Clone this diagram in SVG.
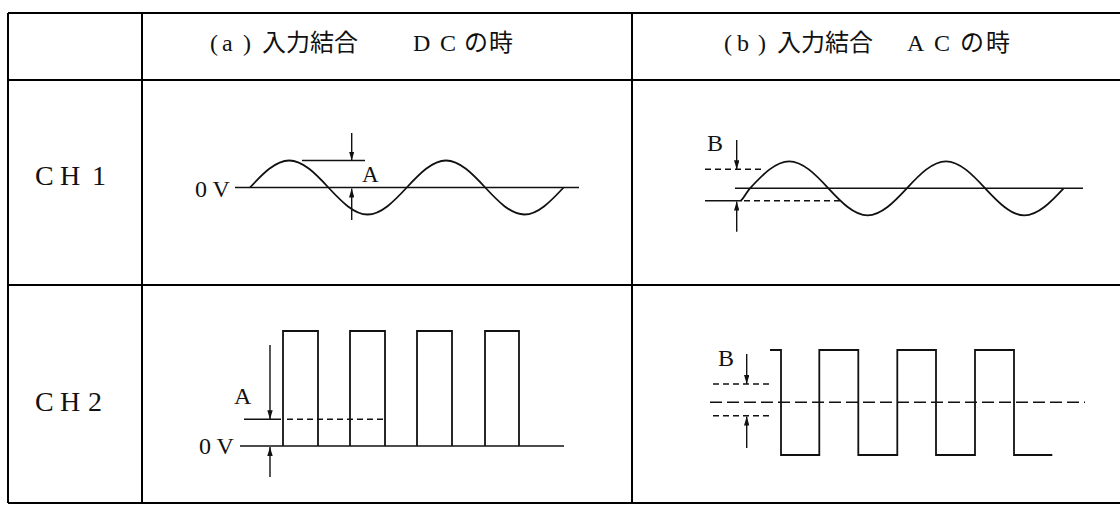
<svg xmlns="http://www.w3.org/2000/svg" width="1120" height="507" viewBox="0 0 1120 507">
<style>
.grid{stroke:#000;stroke-width:2;fill:none}
.wave{stroke:#111;stroke-width:1.8;fill:none}
.thin{stroke:#111;stroke-width:1.4;fill:none}
.dash{stroke:#111;stroke-width:1.4;fill:none;stroke-dasharray:6 4}
.dash2{stroke:#111;stroke-width:1.4;fill:none;stroke-dasharray:12 5}
.arr{stroke:#111;stroke-width:1.4;fill:none;marker-end:url(#ah)}
.t{font-family:"Liberation Serif","Noto Sans CJK JP",serif;fill:#111}
.h{font-size:24px}
.ch{font-size:28px}
.lb{font-size:24px}
</style>
<defs>
<marker id="ah" viewBox="0 0 10 6" refX="10" refY="3" markerWidth="9" markerHeight="5.4" markerUnits="userSpaceOnUse" orient="auto">
<path d="M0,0 L10,3 L0,6 z" fill="#111"/>
</marker>
</defs>
<rect width="1120" height="507" fill="#fff"/>
<g id="table">
<line class="grid" x1="8" y1="13" x2="1120" y2="13"/>
<line class="grid" x1="8" y1="80" x2="1120" y2="80"/>
<line class="grid" x1="8" y1="285" x2="1120" y2="285"/>
<line class="grid" x1="8" y1="503" x2="1120" y2="503"/>
<line class="grid" x1="8" y1="13" x2="8" y2="503"/>
<line class="grid" x1="142" y1="13" x2="142" y2="503"/>
<line class="grid" x1="632" y1="13" x2="632" y2="503"/>
</g>
<g id="header-a">
<text class="t h" x="210 222 243 262 286 310 334 390 413 440 464 489" y="51">(a)入力結合 DCの時</text>
</g>
<g id="header-b">
<text class="t h" x="724 737 758 777 801 825 849 885 907 934 960 986" y="51">(b)入力結合 ACの時</text>
</g>
<g id="label-ch1">
<text class="t ch" x="35 60 92" y="185">CH1</text>
</g>
<g id="label-ch2">
<text class="t ch" x="35 60 88" y="411">CH2</text>
</g>
<g id="ch1-dc">
<line class="thin" x1="235" y1="187.5" x2="579" y2="187.5"/>
<path class="wave" d="M250,187.5 c12.8,-13.8 25.6,-27 39.2,-27 c13.6,0 26.4,13.2 39.2,27 c12.8,13.8 25.6,27 39.2,27 c13.6,0 26.4,-13.2 39.2,-27 c12.8,-13.8 25.6,-27 39.2,-27 c13.6,0 26.4,13.2 39.2,27 c12.8,13.8 25.6,27 39.2,27 c13.6,0 26.4,-13.2 39.2,-27"/>
<line class="thin" x1="302" y1="160.5" x2="365" y2="160.5"/>
<text class="t lb" x="195" y="197">0 V</text>
<text class="t" font-size="23" x="362" y="182">A</text>
</g>
<g id="ch1-ac">
<line class="thin" x1="735" y1="188.3" x2="1083" y2="188.3"/>
<path class="wave" d="M741,200.5 C744,198 746.5,192 750,188.3 c12.8,-13.8 25.6,-27 39.2,-27 c13.6,0 26.4,13.2 39.2,27 c12.8,13.8 25.6,27 39.2,27 c13.6,0 26.4,-13.2 39.2,-27 c12.8,-13.8 25.6,-27 39.2,-27 c13.6,0 26.4,13.2 39.2,27 c12.8,13.8 25.6,27 39.2,27 c13.6,0 26.4,-13.2 39.2,-27"/>
<line class="dash" x1="705" y1="169.3" x2="763" y2="169.3"/>
<line class="thin" x1="705" y1="200.7" x2="742" y2="200.7"/>
<line class="dash" x1="744" y1="200.7" x2="843" y2="200.7"/>
<text class="t lb" x="707" y="151">B</text>
</g>
<g id="ch2-dc">
<line class="thin" x1="240" y1="446" x2="564" y2="446"/>
<path class="wave" d="M283,446 V331 H318 V446 M350,446 V331 H385 V446 M417,446 V331 H452 V446 M485,446 V331 H519 V446"/>
<line class="thin" x1="244" y1="419.3" x2="281" y2="419.3"/>
<line class="dash" x1="287" y1="419.3" x2="385" y2="419.3"/>
<text class="t lb" x="234" y="404">A</text>
<text class="t lb" x="199" y="454">0 V</text>
</g>
<g id="ch2-ac">
<line class="dash2" x1="710" y1="402.3" x2="1085" y2="402.3"/>
<path class="wave" d="M770,350 H781 V455 H819.3 V350 H858.3 V455 H897.3 V350 H936 V455 H975 V350 H1014 V455 H1052.3"/>
<line class="dash" x1="713" y1="384" x2="773" y2="384"/>
<line class="dash" x1="713" y1="415.7" x2="773" y2="415.7"/>
<text class="t lb" x="718" y="366">B</text>
</g>
<g id="connectors">
<line class="arr" x1="351.7" y1="133" x2="351.7" y2="160.5"/>
<line class="arr" x1="351.7" y1="220" x2="351.7" y2="188.5"/>
<line class="arr" x1="736.7" y1="140" x2="736.7" y2="169.3"/>
<line class="arr" x1="736.7" y1="231.7" x2="736.7" y2="201.5"/>
<line class="arr" x1="270" y1="345" x2="270" y2="419.3"/>
<line class="arr" x1="270" y1="477" x2="270" y2="447"/>
<line class="arr" x1="746.7" y1="354" x2="746.7" y2="384"/>
<line class="arr" x1="746.7" y1="448" x2="746.7" y2="416.5"/>
</g>
</svg>
